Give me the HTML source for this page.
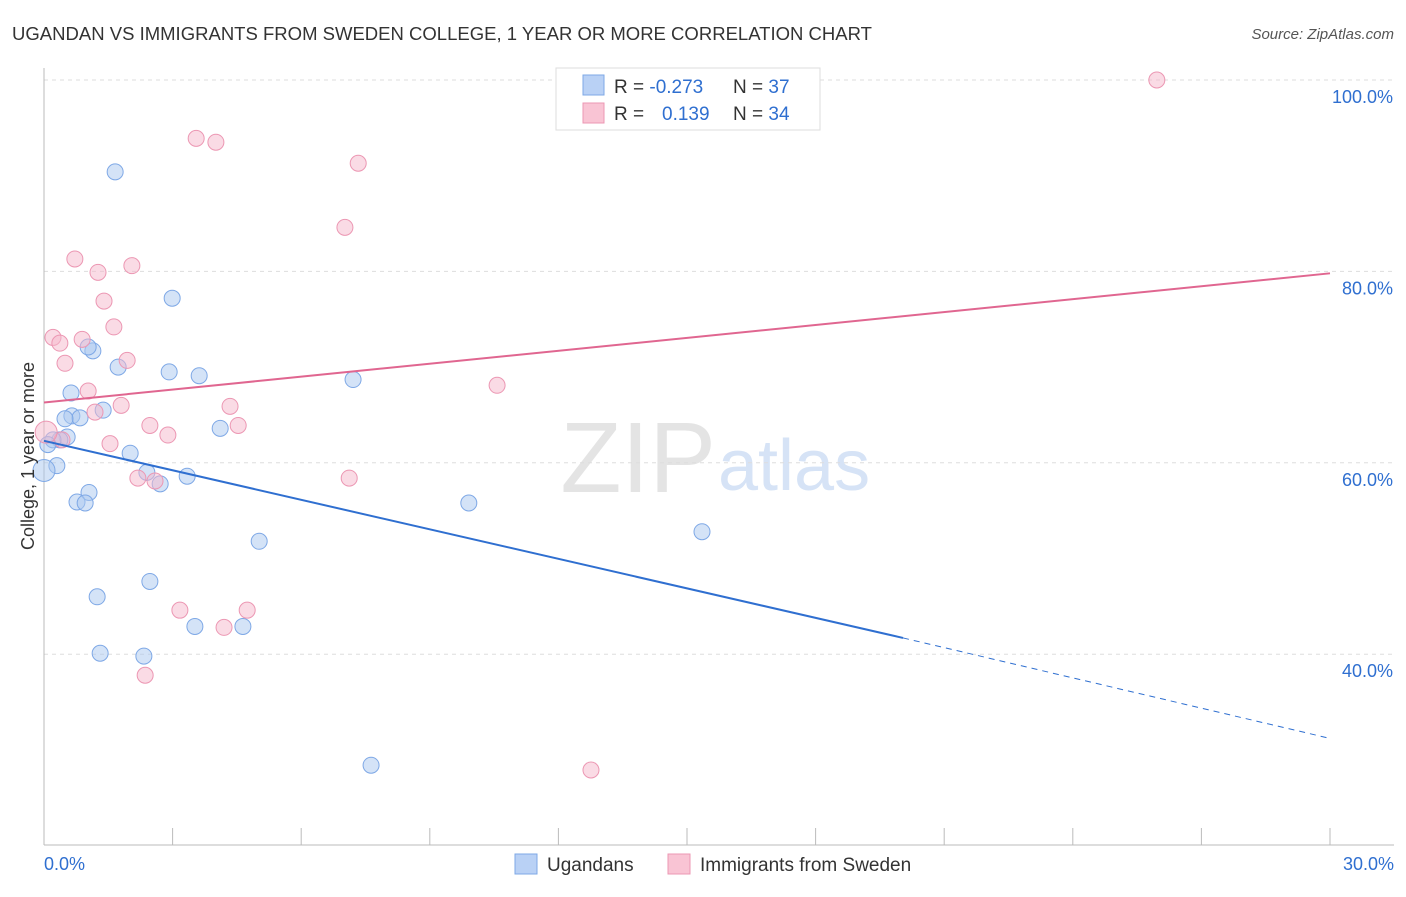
<!DOCTYPE html>
<html><head><meta charset="utf-8">
<style>
body{margin:0;background:#fff;font-family:"Liberation Sans",sans-serif;}
svg text{font-family:"Liberation Sans",sans-serif;}
</style></head>
<body>
<svg id="chart" width="1406" height="892" viewBox="0 0 1406 892">
<text x="12" y="40" font-size="18" fill="#333" textLength="860" lengthAdjust="spacingAndGlyphs">UGANDAN VS IMMIGRANTS FROM SWEDEN COLLEGE, 1 YEAR OR MORE CORRELATION CHART</text>
<text x="1394" y="39" font-size="15" fill="#555" font-style="italic" text-anchor="end">Source: ZipAtlas.com</text>
<text x="716" y="492" font-size="100" fill="#e4e4e4" text-anchor="end" font-family="Liberation Serif">ZIP</text>
<text x="718" y="490" font-size="72" fill="#d6e3f6">atlas</text>
<g id="grid"></g>
<g id="axes"></g>
<g id="marks"></g>
<text x="34" y="456" font-size="18" fill="#333" text-anchor="middle" transform="rotate(-90 34 456)">College, 1 year or more</text>
<g>
<rect x="556" y="68" width="264" height="62" fill="#fff" stroke="#ddd"/>
<rect x="583" y="75" width="21" height="20" fill="#b9d1f5" stroke="#7ea8e6"/>
<rect x="583" y="103" width="21" height="20" fill="#f9c4d4" stroke="#ec97b3"/>
<text x="614" y="93" font-size="19" fill="#333">R = <tspan fill="#2f6fd0">-0.273</tspan></text>
<text x="733" y="93" font-size="19" fill="#333">N = <tspan fill="#2f6fd0">37</tspan></text>
<text x="614" y="120" font-size="19" fill="#333">R = </text>
<text x="662" y="120" font-size="19" fill="#2f6fd0">0.139</text>
<text x="733" y="120" font-size="19" fill="#333">N = <tspan fill="#2f6fd0">34</tspan></text>
</g>
<g>
<rect x="515" y="854" width="22" height="20" fill="#b9d1f5" stroke="#7ea8e6"/>
<text x="547" y="871" font-size="19" fill="#333">Ugandans</text>
<rect x="668" y="854" width="22" height="20" fill="#f9c4d4" stroke="#ec97b3"/>
<text x="700" y="871" font-size="19" fill="#333">Immigrants from Sweden</text>
</g>
</svg>
<script>
const blueX=[1.66,2.99,1.14,1.03,1.73,2.92,3.62,7.21,0.63,1.38,0.65,0.84,0.49,4.11,0.54,0.37,0.21,2.01,0.30,0,2.40,3.34,2.71,1.05,0.77,0.96,9.91,15.35,5.02,2.47,1.24,3.52,4.64,1.31,2.33,7.63,0.09];
const blueY=[90.4,77.2,71.7,72.1,70.0,69.5,69.1,68.7,67.3,65.5,64.9,64.7,64.6,63.6,62.7,62.4,62.4,61.0,59.7,59.2,59.0,58.6,57.8,56.9,55.9,55.8,55.8,52.8,51.8,47.6,46.0,42.9,42.9,40.1,39.8,28.4,61.9];
const pinkX=[25.96,3.55,4.01,7.33,7.02,0.72,1.26,2.05,1.40,1.63,0.21,0.89,0.37,1.94,0.49,1.03,10.57,1.80,4.34,1.19,2.47,4.53,2.89,0.42,1.54,2.19,2.59,7.12,3.17,4.74,4.20,2.36,12.76,0.05];
const pinkY=[100,93.9,93.5,91.3,84.6,81.3,79.9,80.6,76.9,74.2,73.1,72.9,72.5,70.7,70.4,67.5,68.1,66.0,65.9,65.3,63.9,63.9,62.9,62.4,62.0,58.4,58.1,58.4,44.6,44.6,42.8,37.8,27.9,63.2];
const yTicks=[100,80,60,40];
const yTickLabels=["100.0%","80.0%","60.0%","40.0%"];
const blueTrend=[62.3,41.7,31.2];
const blueTrendX=[0,20.04,30];
const pinkTrend=[66.3,79.8];
const NS="http://www.w3.org/2000/svg";
const sx=v=>44+v/30*1286;
const sy=v=>80+(100-v)*9.57;
function mk(tag,attrs,parent){const e=document.createElementNS(NS,tag);for(const k in attrs)e.setAttribute(k,attrs[k]);document.getElementById(parent).appendChild(e);return e;}
yTicks.forEach((t,i)=>{
 const g=mk('line',{x1:44,x2:1394,y1:sy(t),y2:sy(t),stroke:'#ddd','stroke-dasharray':'4 4'},'grid');
 
 
 const l=mk('text',{x:1393,y:sy(t)+23,'font-size':18,fill:'#2f6fd0','text-anchor':'end'},'grid');
 l.textContent=yTickLabels[i];
 
 
});
const ax=mk('line',{x1:44,x2:44,y1:68,y2:845,stroke:'#bbb'},'axes');


const bx=mk('line',{x1:44,x2:1394,y1:845,y2:845,stroke:'#bbb'},'axes');


for(let i=1;i<=10;i++){const t=mk('line',{x1:sx(i*3),x2:sx(i*3),y1:828,y2:845,stroke:'#bbb'},'axes');
 
 }
[["0.0%",44,'start'],["30.0%",1394,'end']].forEach(d=>{const t=mk('text',{x:d[1],y:870,'font-size':18,fill:'#2f6fd0','text-anchor':d[2]},'axes');t.textContent=d[0];
 
 });
blueX.forEach((x,i)=>{const c=mk('circle',{cx:sx(x),cy:sy(blueY[i]),r:(x===0?11:8),fill:'rgba(170,200,240,0.5)',stroke:'#7ea8e6','stroke-width':1},'marks');
 
 });
pinkX.forEach((x,i)=>{const c=mk('circle',{cx:sx(x),cy:sy(pinkY[i]),r:(x<0.1?11:8),fill:'rgba(245,184,204,0.5)',stroke:'#ec97b3','stroke-width':1},'marks');
 
 });
const bl=mk('line',{x1:sx(blueTrendX[0]),y1:sy(blueTrend[0]),x2:sx(blueTrendX[1]),y2:sy(blueTrend[1]),stroke:'#2f6fd0','stroke-width':2},'marks');


const bd=mk('line',{x1:sx(blueTrendX[1]),y1:sy(blueTrend[1]),x2:sx(blueTrendX[2]),y2:sy(blueTrend[2]),stroke:'#2f6fd0','stroke-width':1,'stroke-dasharray':'6 5'},'marks');


const pl=mk('line',{x1:sx(0),y1:sy(pinkTrend[0]),x2:sx(30),y2:sy(pinkTrend[1]),stroke:'#e06690','stroke-width':2},'marks');


</script>
</body></html>
